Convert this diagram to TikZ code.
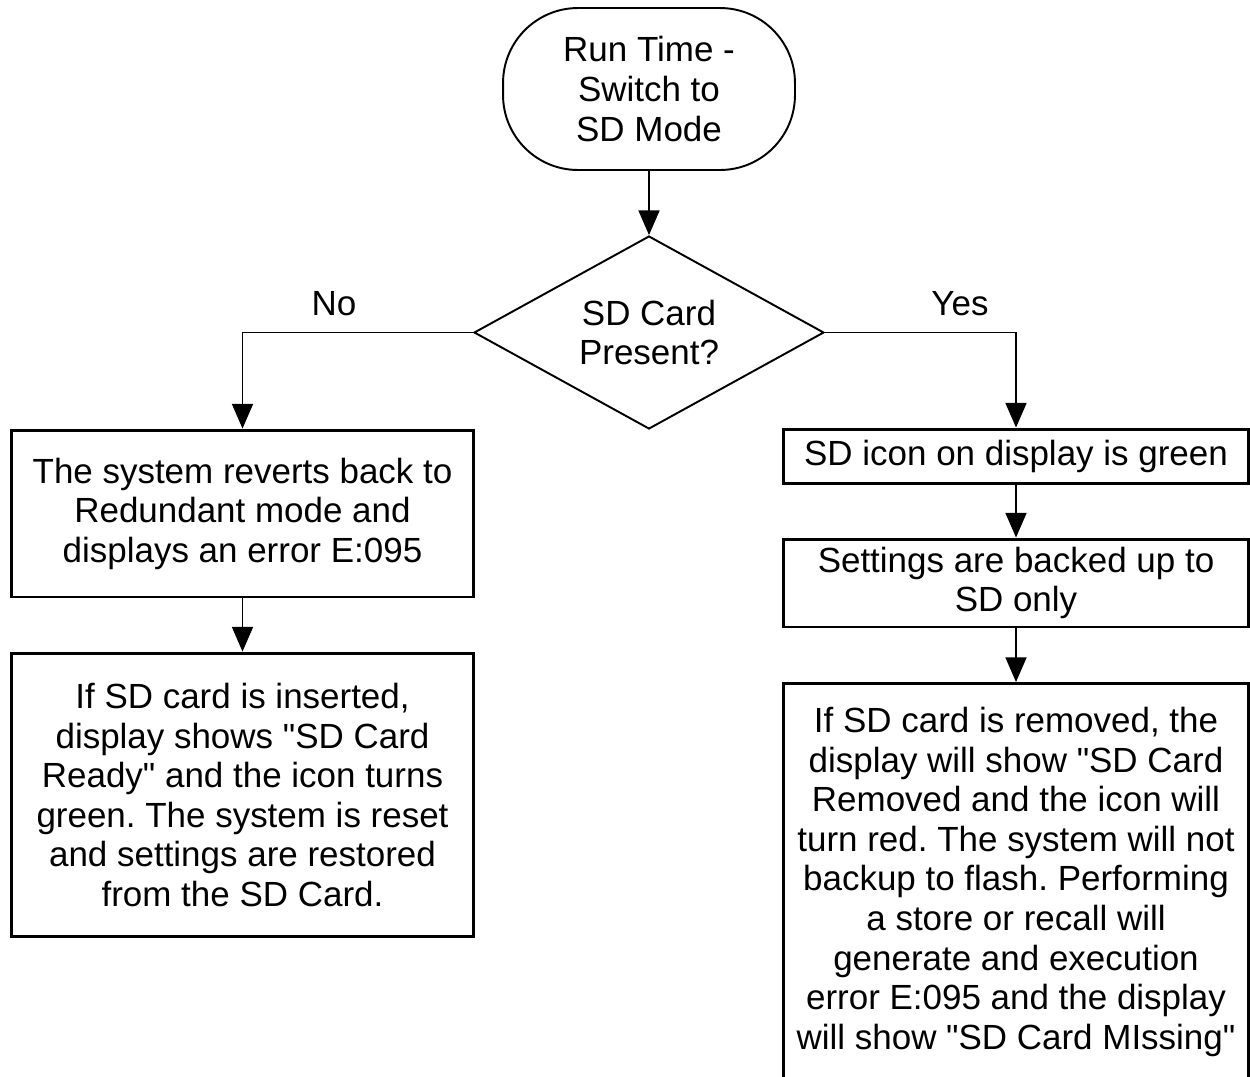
\documentclass[tikz,border=0pt]{standalone}
\usepackage{fontspec}
\setmainfont{Liberation Sans}
\usetikzlibrary{arrows.meta,shapes.geometric}
\frenchspacing

\begin{document}
\begin{tikzpicture}[x=0.02cm,y=-0.02cm,font=\fontsize{19.9}{22.5}\selectfont,
    >={Triangle[length=14pt,width=12pt]},
    flow/.style={->,line width=0.7pt},
    boxnode/.style={draw,line width=1.7pt,align=center,inner sep=2pt},
    startnode/.style={draw,line width=1.1pt,rounded corners=1.5cm,align=center,
      minimum width=5.84cm,minimum height=3.24cm},
    decnode/.style={draw,diamond,aspect=1.8,line width=1.1pt,align=center,inner sep=0pt,
      minimum width=7.0cm,minimum height=3.86cm}]
  \clip (0,0) rectangle (1250,1076);
  \useasboundingbox (0,0) rectangle (1250,1076);

  % start and decision
  \node[startnode] (start) at (649,89) {Run Time -\\Switch to\\SD Mode};
  \node[decnode] (dec) at (649,332.5) {SD Card\\Present?};
  \draw[flow] (start.south) -- (dec.north);

  \node (no) at (334,304) {No};
  \node (yes) at (960,304) {Yes};

  % no branch
  \node[boxnode,minimum width=9.26cm,minimum height=3.34cm] (left1) at (242.5,513.5)
    {The system reverts back to\\Redundant mode and\\displays an error E:095};
  \node[boxnode,minimum width=9.26cm,minimum height=5.68cm] (left2) at (242.5,795)
    {If SD card is inserted,\\display shows \textquotedbl SD Card\\Ready\textquotedbl{} and the icon turns\\green. The system is reset\\and settings are restored\\from the SD Card.};
  \draw[flow] (dec.west) -| (left1.north);
  \draw[flow] (left1.south) -- (left2.north);

  % yes branch
  \node[boxnode,minimum width=9.32cm,minimum height=1.08cm] (right1) at (1016,456)
    {SD icon on display is green};
  \node[boxnode,minimum width=9.32cm,minimum height=1.76cm] (right2) at (1016,583)
    {Settings are backed up to\\SD only};
  \node[boxnode,minimum width=9.32cm,anchor=north,inner ysep=0.48cm,text depth=3cm] (right3) at (1016,682)
    {If SD card is removed, the\\display will show \textquotedbl SD Card\\Removed and the icon will\\turn red. The system will not\\backup to flash. Performing\\a store or recall will\\generate and execution\\error E:095 and the display\\will show \textquotedbl SD Card MIssing\textquotedbl};
  \draw[flow] (dec.east) -| (right1.north);
  \draw[flow] (right1.south) -- (right2.north);
  \draw[flow] (right2.south) -- (right3.north);
\end{tikzpicture}
\end{document}
